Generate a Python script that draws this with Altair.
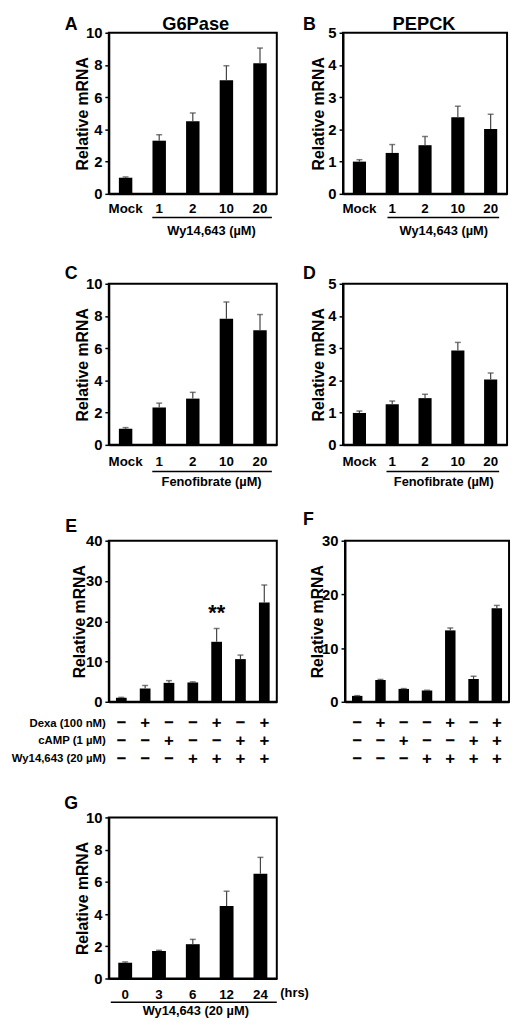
import altair as alt
import pandas as pd

FONT = "Liberation Sans"
H = 163
WL, WR = 170, 166

# ---------------- data ----------------
doses = ["Mock", "1", "2", "10", "20"]
g6pase_wy = [1.0, 3.3, 4.5, 7.05, 8.1]
g6pase_wy_err = [0.05, 0.37, 0.52, 0.9, 0.95]
pepck_wy = [1.0, 1.27, 1.51, 2.38, 2.01]
pepck_wy_err = [0.06, 0.26, 0.27, 0.34, 0.46]
g6pase_feno = [1.0, 2.32, 2.87, 7.83, 7.11]
g6pase_feno_err = [0.07, 0.27, 0.39, 1.04, 0.98]
pepck_feno = [0.99, 1.26, 1.45, 2.93, 2.03]
pepck_feno_err = [0.06, 0.1, 0.12, 0.25, 0.2]

combos = ["none", "Dexa", "cAMP", "Wy", "Dexa+Wy", "cAMP+Wy", "Dexa+cAMP+Wy"]
dexa_row = ["\u2212", "+", "\u2212", "\u2212", "+", "\u2212", "+"]
camp_row = ["\u2212", "\u2212", "+", "\u2212", "\u2212", "+", "+"]
wy_row = ["\u2212", "\u2212", "\u2212", "+", "+", "+", "+"]
g6pase_combo = [1.0, 3.3, 4.7, 4.8, 14.9, 10.6, 24.65]
g6pase_combo_err = [0.1, 0.75, 0.55, 0.15, 3.3, 1.0, 4.35]
g6pase_combo_sig = ["", "", "", "", "**", "", ""]
pepck_combo = [1.1, 4.06, 2.4, 2.1, 13.3, 4.25, 17.4]
pepck_combo_err = [0.05, 0.1, 0.06, 0.05, 0.45, 0.5, 0.55]

hours = ["0", "3", "6", "12", "24"]
g6pase_time = [0.98, 1.7, 2.13, 4.5, 6.5]
g6pase_time_err = [0.05, 0.05, 0.3, 0.92, 1.02]

one = pd.DataFrame({"k": [0]})


def text_at(txt, x, y, size=13, align="center", baseline="middle"):
    return alt.Chart(pd.DataFrame({"t": [txt]})).mark_text(
        font=FONT, fontWeight="bold", fontSize=size, align=align,
        baseline=baseline, color="black"
    ).encode(text="t:N", x=alt.value(x), y=alt.value(y))


def hline(x1, x2, y):
    return alt.Chart(one).mark_rule(color="black", strokeWidth=1.5).encode(
        x=alt.value(x1), x2=alt.value(x2), y=alt.value(y))


def spacer(xl, xr, yt, yb):
    return alt.Chart(one).mark_rule(color="white", opacity=0, strokeWidth=0.1).encode(
        x=alt.value(xl), x2=alt.value(xr), y=alt.value(yt), y2=alt.value(yb))


def panel(cats, vals, errs, ymax, yvals, pi, po, show_labels, label_pad,
          title_pad, extras, extents, width, sig=None):
    df = pd.DataFrame({"cat": cats, "v": vals, "e": errs})
    if sig is not None:
        df["sig"] = sig
    base = alt.Chart(df).transform_calculate(hi="datum.v + datum.e")
    xs = alt.Scale(domain=cats, paddingInner=pi, paddingOuter=po)
    ys = alt.Scale(domain=[0, ymax], nice=False, zero=True)
    xaxis = alt.Axis(title=None, labelAngle=0, ticks=False,
                     labels=show_labels, labelPadding=label_pad,
                     labelFontSize=13.5, labelBaseline="top")
    yaxis = alt.Axis(values=yvals, title="Relative mRNA", titlePadding=title_pad,
                     titleFontSize=16, labelFontSize=15, labelOverlap=False,
                     tickSize=4, labelPadding=3)

    def X():
        return alt.X("cat:N", sort=cats, scale=xs, axis=xaxis)

    bars = base.mark_bar(color="black").encode(
        x=X(), y=alt.Y("v:Q", scale=ys, axis=yaxis))
    err = base.mark_rule(color="#444", strokeWidth=1.2).encode(
        x=X(), y=alt.Y("v:Q", scale=ys, axis=yaxis), y2="hi:Q")
    cap = base.mark_tick(color="#444", thickness=1.5, size=6).encode(
        x=X(), y=alt.Y("hi:Q", scale=ys, axis=yaxis))
    layers = [bars, err, cap]
    if sig is not None:
        layers.append(base.mark_text(font=FONT, fontWeight="bold", fontSize=22,
                                     dy=-16, baseline="middle", color="black").encode(
            x=X(), y=alt.Y("hi:Q", scale=ys, axis=yaxis), text="sig:N"))
    layers += extras
    layers.append(spacer(*extents))
    return alt.layer(*layers).properties(width=width, height=H)


def sign_row(cats, signs, y):
    df = pd.DataFrame({"cat": cats, "s": signs})
    return alt.Chart(df).mark_text(font=FONT, fontWeight="bold", fontSize=17,
                                   baseline="middle", color="black").encode(
        x=alt.X("cat:N", sort=cats), y=alt.value(y), text="s:N")


# horizontal extents: total = 101 + 194 + 41 + 167.5 <= 504
LEFT = (-101, WL + 24)
RIGHT = (-41, WR + 1.5)

# Row 1
ext1 = (-18, H + 48)
pA = panel(doses, g6pase_wy, g6pase_wy_err, 10, [0, 2, 4, 6, 8, 10], 0.6, 0.3, True, 8, -4.8,
           [text_at("A", -38, -3, 18, baseline="alphabetic"),
            text_at("G6Pase", 88, -3, 18.5, baseline="alphabetic"),
            hline(44, 165, H + 24),
            text_at("Wy14,643 (\u00b5M)", 104, H + 38)],
           (LEFT[0], LEFT[1], ext1[0], ext1[1]), WL)
pB = panel(doses, pepck_wy, pepck_wy_err, 5, [0, 1, 2, 3, 4, 5], 0.6, 0.3, True, 8, 1.6,
           [text_at("B", -34, -3, 18, baseline="alphabetic"),
            text_at("PEPCK", 82, -3, 18.5, baseline="alphabetic"),
            hline(45, 158, H + 24),
            text_at("Wy14,643 (\u00b5M)", 102, H + 38)],
           (RIGHT[0], RIGHT[1], ext1[0], ext1[1]), WR)

# Row 2
ext2 = (-41, H + 48)
pC = panel(doses, g6pase_feno, g6pase_feno_err, 10, [0, 2, 4, 6, 8, 10], 0.6, 0.3, True, 10, -4.8,
           [text_at("C", -38, -10, 18),
            hline(44, 165, H + 27),
            text_at("Fenofibrate (\u00b5M)", 104, H + 38)],
           (LEFT[0], LEFT[1], ext2[0], ext2[1]), WL)
pD = panel(doses, pepck_feno, pepck_feno_err, 5, [0, 1, 2, 3, 4, 5], 0.6, 0.3, True, 10, 1.6,
           [text_at("D", -34, -10, 18),
            hline(44, 158, H + 27),
            text_at("Fenofibrate (\u00b5M)", 102, H + 38)],
           (RIGHT[0], RIGHT[1], ext2[0], ext2[1]), WR)

# Row 3
ext3 = (-47, H + 70)
rows_y = [H + 22, H + 40, H + 58]
pE = panel(combos, g6pase_combo, g6pase_combo_err, 40, [0, 10, 20, 30, 40], 0.55, 0.3, False, 8, -1.8,
           [text_at("E", -38, -14, 18),
            sign_row(combos, dexa_row, rows_y[0]),
            sign_row(combos, camp_row, rows_y[1]),
            sign_row(combos, wy_row, rows_y[2]),
            text_at("Dexa (100 nM)", -3, rows_y[0], 11.5, align="right"),
            text_at("cAMP (1 \u00b5M)", -3, rows_y[1], 11.5, align="right"),
            text_at("Wy14,643 (20 \u00b5M)", -3, rows_y[2], 11.5, align="right")],
           (LEFT[0], LEFT[1], ext3[0], ext3[1]), WL, sig=g6pase_combo_sig)
pF = panel(combos, pepck_combo, pepck_combo_err, 30, [0, 10, 20, 30], 0.55, 0.3, False, 8, -4.1,
           [text_at("F", -37, -21, 18),
            sign_row(combos, dexa_row, rows_y[0]),
            sign_row(combos, camp_row, rows_y[1]),
            sign_row(combos, wy_row, rows_y[2])],
           (RIGHT[0], RIGHT[1], ext3[0], ext3[1]), WR)

# Row 4
ext4 = (-45, H + 38)
pG = panel(hours, g6pase_time, g6pase_time_err, 10, [0, 2, 4, 6, 8, 10], 0.59, 0.28, True, 9, -4.8,
           [text_at("G", -38, -14, 18),
            hline(2, 170, H + 24),
            text_at("(hrs)", 188, H + 15),
            text_at("Wy14,643 (20 \u00b5M)", 88, H + 33)],
           (LEFT[0], LEFT[1], ext4[0], ext4[1]), WL)

row1 = alt.hconcat(pA, pB, spacing=0)
row2 = alt.hconcat(pC, pD, spacing=0)
row3 = alt.hconcat(pE, pF, spacing=0)

chart = alt.vconcat(row1, row2, row3, pG, spacing=0).properties(
    padding=0
).configure_view(
    stroke="black", strokeWidth=2
).configure_axis(
    labelFont=FONT, titleFont=FONT, labelFontWeight="bold", titleFontWeight="bold",
    labelColor="black", titleColor="black", domainColor="black", tickColor="black",
    domainWidth=2, tickWidth=1.5, grid=False
)

chart.save("out.html", embed_options={"renderer": "svg", "actions": False})
